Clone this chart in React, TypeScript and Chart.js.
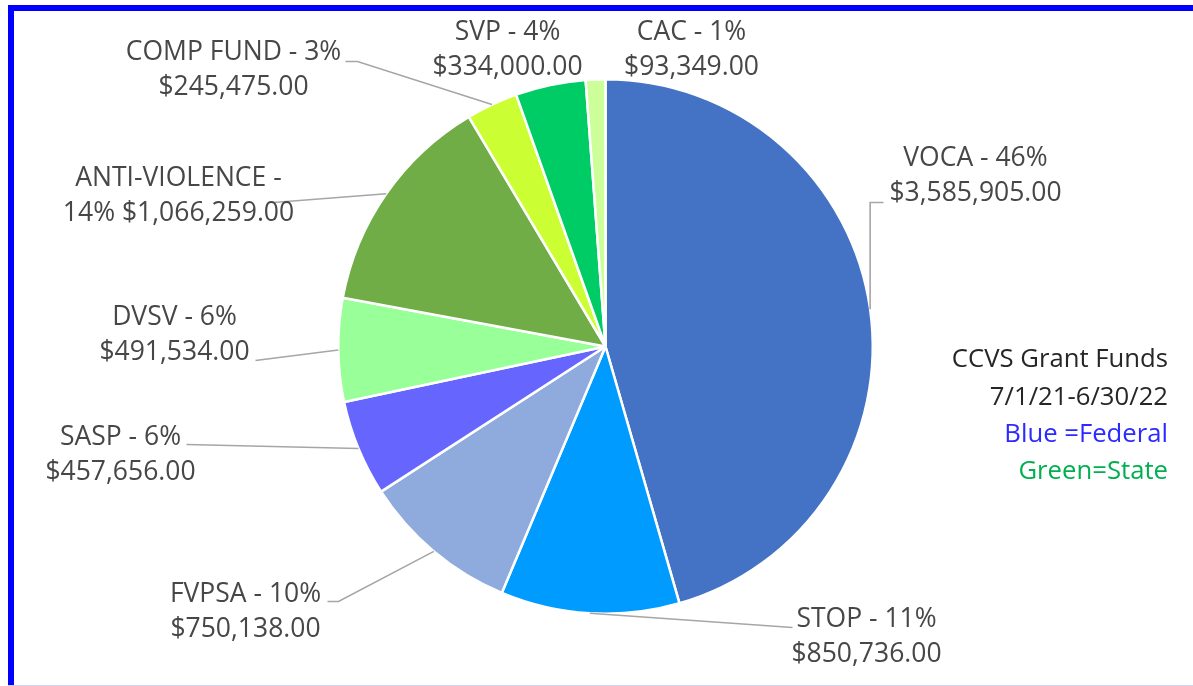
import React, { useEffect, useRef } from "react";
import Chart from "chart.js/auto";

const categories = ["VOCA", "STOP", "FVPSA", "SASP", "DVSV", "ANTI-VIOLENCE", "COMP FUND", "SVP", "CAC"];
const amounts = [3585905, 850736, 750138, 457656, 491534, 1066259, 245475, 334000, 93349];
const percentLabels = ["46%", "11%", "10%", "6%", "6%", "14%", "3%", "4%", "1%"];
const amountLabels = ["$3,585,905.00", "$850,736.00", "$750,138.00", "$457,656.00", "$491,534.00", "$1,066,259.00", "$245,475.00", "$334,000.00", "$93,349.00"];
const sliceColors = ["#4472C4", "#009BFF", "#8FAADC", "#6666FF", "#99FF99", "#70AD47", "#CCFF33", "#00CC66", "#CCFF99"];
const titleLines = ["CCVS Grant Funds", "7/1/21-6/30/22"];
const noteLines = ["Blue =Federal", "Green=State"];

// label layout (offsets from pie centre)
type Lay = { lines: string[]; cx: number; cy: number; end?: [number, number]; elbow?: "vert" | [number, number] };
const layout: Lay[] = [
  { lines: [`${categories[0]} - ${percentLabels[0]}`, amountLabels[0]], cx: 370, cy: -171, end: [278, -144], elbow: "vert" },
  { lines: [`${categories[1]} - ${percentLabels[1]}`, amountLabels[1]], cx: 261, cy: 290, end: [187, 281] },
  { lines: [`${categories[2]} - ${percentLabels[2]}`, amountLabels[2]], cx: -360, cy: 265, end: [-278, 255], elbow: [-267, 255] },
  { lines: [`${categories[3]} - ${percentLabels[3]}`, amountLabels[3]], cx: -485, cy: 108, end: [-419, 98] },
  { lines: [`${categories[4]} - ${percentLabels[4]}`, amountLabels[4]], cx: -431, cy: -12, end: [-350, 14] },
  { lines: ["ANTI-VIOLENCE -", `${percentLabels[5]} ${amountLabels[5]}`], cx: -427, cy: -151, end: [-332, -144] },
  { lines: [`${categories[6]} - ${percentLabels[6]}`, amountLabels[6]], cx: -372, cy: -277, end: [-260, -285], elbow: [-248, -285] },
  { lines: [`${categories[7]} - ${percentLabels[7]}`, amountLabels[7]], cx: -98, cy: -297 },
  { lines: [`${categories[8]} - ${percentLabels[8]}`, amountLabels[8]], cx: 86, cy: -297 },
];

const FONT = "26.5px 'Open Sans'";
const SIDE_FONT = "25.7px 'Open Sans'";

const overlay = {
  id: "overlay",
  afterDraw(chart: any) {
    const ctx = chart.ctx as CanvasRenderingContext2D;
    const meta = chart.getDatasetMeta(0);
    const arcs = meta.data as any[];
    const c0 = arcs[0];
    const ox = c0.x, oy = c0.y;
    ctx.save();
    // frame
    ctx.fillStyle = "#0000FF";
    ctx.fillRect(8, 5, chart.width - 8, 6);
    ctx.fillRect(8, 5, 6, chart.height - 5);
    ctx.fillStyle = "#D0D0F4";
    ctx.fillRect(8, chart.height - 1, chart.width - 8, 1);

    // leader lines
    ctx.strokeStyle = "#A6A6A6";
    ctx.lineWidth = 1.6;
    layout.forEach((l, i) => {
      if (!l.end) return;
      const a = arcs[i];
      const mid = (a.startAngle + a.endAngle) / 2;
      const sx = a.x + Math.cos(mid) * a.outerRadius;
      const sy = a.y + Math.sin(mid) * a.outerRadius;
      const ex = ox + l.end[0], ey = oy + l.end[1];
      ctx.beginPath();
      ctx.moveTo(sx, sy);
      if (l.elbow === "vert") ctx.lineTo(sx, ey);
      else if (Array.isArray(l.elbow)) ctx.lineTo(ox + l.elbow[0], oy + l.elbow[1]);
      ctx.lineTo(ex, ey);
      ctx.stroke();
    });

    // labels
    ctx.font = FONT;
    ctx.fillStyle = "#474747";
    ctx.textAlign = "center";
    ctx.textBaseline = "middle";
    const lh = 35;
    layout.forEach((l) => {
      const n = l.lines.length;
      l.lines.forEach((t, k) => {
        ctx.fillText(t, ox + l.cx, oy + l.cy + (k - (n - 1) / 2) * lh);
      });
    });

    // side text
    ctx.font = SIDE_FONT;
    ctx.textAlign = "right";
    const rx = 1168;
    ctx.fillStyle = "#262626";
    titleLines.forEach((t, k) => ctx.fillText(t, rx, 360 + k * 37.5));
    ctx.fillStyle = "#2B2BFF";
    ctx.fillText(noteLines[0], rx, 435);
    ctx.fillStyle = "#00B050";
    ctx.fillText(noteLines[1], rx, 472);
    ctx.restore();
  },
};

export default function App() {
  const ref = useRef<HTMLCanvasElement>(null);
  useEffect(() => {
    if (!ref.current) return;
    const chart = new Chart(ref.current, {
      type: "pie",
      data: {
        labels: categories,
        datasets: [
          {
            data: amounts,
            backgroundColor: sliceColors,
            borderColor: "#FFFFFF",
            borderWidth: 2.5,
          },
        ],
      },
      options: {
        responsive: false,
        animation: false,
        devicePixelRatio: 1,
        events: [],
        layout: { padding: { left: 337, right: 319, top: 78, bottom: 71 } },
        plugins: { legend: { display: false }, tooltip: { enabled: false } },
      },
      plugins: [overlay],
    });
    return () => chart.destroy();
  }, []);
  return (
    <div style={{ position: "fixed", left: 0, top: 0, width: 1193, height: 686, background: "#fff" }}>
      <canvas ref={ref} width={1193} height={686} style={{ width: 1193, height: 686, display: "block" }} />
    </div>
  );
}
